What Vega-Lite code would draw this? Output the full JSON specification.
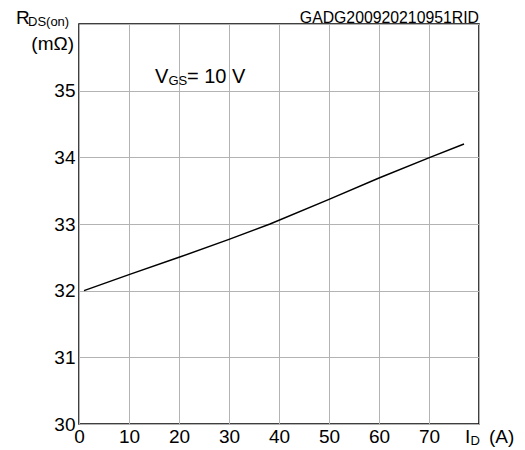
{
  "$schema": "https://vega.github.io/schema/vega-lite/v6.json",
  "width": 400,
  "height": 400,
  "autosize": {"type": "none"},
  "padding": {"left": 79, "top": 24, "right": 46, "bottom": 26},
  "background": "white",
  "config": {
    "view": {"stroke": "black", "strokeWidth": 1.5},
    "font": "Liberation Sans",
    "text": {"fontWeight": "normal"},
    "axis": {
      "grid": true,
      "gridColor": "#b3b3b3",
      "gridWidth": 1,
      "gridOpacity": 1,
      "domain": false,
      "ticks": false,
      "title": null,
      "labelFont": "Liberation Sans",
      "labelFontWeight": "normal",
      "labelFontSize": 19,
      "labelColor": "black",
      "labelOverlap": false,
      "labelFlush": false
    }
  },
  "layer": [
    {
      "data": {
        "values": [
          {"id": 1, "rds": 32.0},
          {"id": 10, "rds": 32.24},
          {"id": 20, "rds": 32.5},
          {"id": 30, "rds": 32.77},
          {"id": 38.2, "rds": 33.0},
          {"id": 50, "rds": 33.37},
          {"id": 60, "rds": 33.69},
          {"id": 70.2, "rds": 34.0},
          {"id": 77, "rds": 34.2}
        ]
      },
      "mark": {"type": "line", "color": "black", "strokeWidth": 1.5},
      "encoding": {
        "x": {
          "field": "id",
          "type": "quantitative",
          "scale": {"domain": [0, 80], "nice": false, "zero": false},
          "axis": {
            "values": [0, 5, 10, 15, 20, 25, 30, 35, 40, 45, 50, 55, 60, 65, 70, 75, 80],
            "labelExpr": "datum.value % 10 == 0 && datum.value < 80 ? format(datum.value, 'd') : ''",
            "labelPadding": 3
          }
        },
        "y": {
          "field": "rds",
          "type": "quantitative",
          "scale": {"domain": [30, 36], "nice": false, "zero": false},
          "axis": {
            "values": [30, 30.5, 31, 31.5, 32, 32.5, 33, 33.5, 34, 34.5, 35, 35.5, 36],
            "labelExpr": "datum.value % 1 == 0 && datum.value < 36 ? format(datum.value, 'd') : ''",
            "labelPadding": 4
          }
        }
      }
    },
    {
      "data": {"values": [{}]},
      "mark": {"type": "text", "text": "R", "align": "left", "baseline": "alphabetic", "fontSize": 19, "font": "Liberation Sans", "color": "black"},
      "encoding": {"x": {"datum": -12.6}, "y": {"datum": 36.0}}
    },
    {
      "data": {"values": [{}]},
      "mark": {"type": "text", "text": "DS(on)", "align": "left", "baseline": "alphabetic", "fontSize": 13, "font": "Liberation Sans", "color": "black"},
      "encoding": {"x": {"datum": -10.2}, "y": {"datum": 35.97}}
    },
    {
      "data": {"values": [{}]},
      "mark": {"type": "text", "text": "(mΩ)", "align": "right", "baseline": "alphabetic", "fontSize": 19, "font": "Liberation Sans", "color": "black"},
      "encoding": {"x": {"datum": -1.0}, "y": {"datum": 35.61}}
    },
    {
      "data": {"values": [{}]},
      "mark": {"type": "text", "text": "GADG200920210951RID", "align": "right", "baseline": "alphabetic", "fontSize": 15.8, "font": "Liberation Sans", "color": "black"},
      "encoding": {"x": {"datum": 80}, "y": {"datum": 36.015}}
    },
    {
      "data": {"values": [{}]},
      "mark": {"type": "text", "text": "V", "align": "left", "baseline": "alphabetic", "fontSize": 20, "font": "Liberation Sans", "color": "black"},
      "encoding": {"x": {"datum": 15.2}, "y": {"datum": 35.11}}
    },
    {
      "data": {"values": [{}]},
      "mark": {"type": "text", "text": "GS", "align": "left", "baseline": "alphabetic", "fontSize": 13, "font": "Liberation Sans", "color": "black"},
      "encoding": {"x": {"datum": 17.9}, "y": {"datum": 35.08}}
    },
    {
      "data": {"values": [{}]},
      "mark": {"type": "text", "text": "= 10 V", "align": "left", "baseline": "alphabetic", "fontSize": 20, "font": "Liberation Sans", "color": "black"},
      "encoding": {"x": {"datum": 21.6}, "y": {"datum": 35.11}}
    },
    {
      "data": {"values": [{}]},
      "mark": {"type": "text", "text": "I", "align": "left", "baseline": "alphabetic", "fontSize": 19, "font": "Liberation Sans", "color": "black"},
      "encoding": {"x": {"datum": 77.2}, "y": {"datum": 29.715}}
    },
    {
      "data": {"values": [{}]},
      "mark": {"type": "text", "text": "D", "align": "left", "baseline": "alphabetic", "fontSize": 13, "font": "Liberation Sans", "color": "black"},
      "encoding": {"x": {"datum": 78.3}, "y": {"datum": 29.685}}
    },
    {
      "data": {"values": [{}]},
      "mark": {"type": "text", "text": "(A)", "align": "left", "baseline": "alphabetic", "fontSize": 19, "font": "Liberation Sans", "color": "black"},
      "encoding": {"x": {"datum": 82.0}, "y": {"datum": 29.715}}
    }
  ]
}
